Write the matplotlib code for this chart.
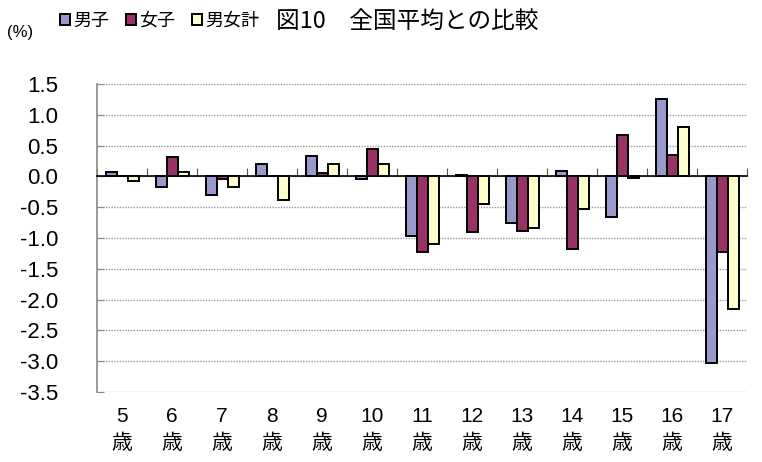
import numpy as np
import matplotlib
matplotlib.use('Agg')
import matplotlib.pyplot as plt

plt.rcParams['font.family'] = ['Noto Sans CJK JP', 'DejaVu Sans']

# data (difference from national average, %)
ages = ['5', '6', '7', '8', '9', '10', '11', '12', '13', '14', '15', '16', '17']
boys = [0.07, -0.17, -0.30, 0.20, 0.33, -0.05, -0.96, 0.03, -0.76, 0.08, -0.66, 1.25, -3.03]
girls = [0.0, 0.31, -0.05, 0.0, 0.06, 0.44, -1.23, -0.91, -0.88, -1.18, 0.67, 0.35, -1.23]
total = [-0.07, 0.07, -0.18, -0.39, 0.20, 0.20, -1.09, -0.44, -0.83, -0.53, -0.02, 0.81, -2.16]
series_names = ['男子', '女子', '男女計']
colours = ['#9999CC', '#993366', '#FFFFCC']
yticks = [1.5, 1.0, 0.5, 0.0, -0.5, -1.0, -1.5, -2.0, -2.5, -3.0, -3.5]

fig = plt.figure(figsize=(7.62, 4.62), dpi=100)
ax = fig.add_axes([97/762, 1-392/462, 650/762, 308/462])

x = np.arange(len(ages))
w = 0.22
bars = []
for i, (vals, c, name) in enumerate(zip([boys, girls, total], colours, series_names)):
    b = ax.bar(x + (i-1)*w, vals, w, color=c, edgecolor='black', linewidth=1.4,
               label=name, zorder=3)
    bars.append(b)

ax.set_xlim(-0.5, len(ages)-0.5)
ax.set_ylim(-3.5, 1.5)

# y axis
ax.set_yticks(yticks)
ax.set_yticklabels(['%.1f' % v for v in yticks], family=['Liberation Sans', 'DejaVu Sans'],
                   fontsize=16)
ax.tick_params(axis='y', direction='in', length=5, color='#888888', pad=28)
ax.grid(axis='y', linestyle=(0, (1, 1)), color='#999999', linewidth=1.0, zorder=0)

for s in ['top', 'right']:
    ax.spines[s].set_visible(False)
ax.spines['left'].set_color('#888888')
ax.spines['left'].set_linewidth(1.2)

# category axis drawn at zero with boundary ticks pointing up
ax.spines['bottom'].set_position(('data', 0))
ax.spines['bottom'].set_color('black')
ax.spines['bottom'].set_linewidth(1.2)
ax.spines['bottom'].set_zorder(4)
ax.set_xticks(np.arange(len(ages)+1) - 0.5)
ax.set_xticklabels([])
ax.tick_params(axis='x', direction='in', length=6, color='#555555')

sec = ax.secondary_xaxis('bottom')
sec.set_xticks(x)
sec.set_xticklabels([a + '\n歳' for a in ages], family=['Liberation Sans', 'Noto Sans CJK JP'],
                    fontsize=15, linespacing=1.5)
sec.tick_params(length=0, pad=11)
sec.spines['bottom'].set_visible(False)

# title, unit and legend
fig.text(276/762, 1-21/462, '図10　全国平均との比較', fontsize=17, va='center', ha='left')
fig.text(7/762, 1-33/462, '(%)', fontsize=12, va='center', ha='left',
         family=['Liberation Sans Narrow', 'Liberation Sans'])
fig.legend(handles=bars, labels=series_names, loc='center left',
           bbox_to_anchor=(60/762, 1-21/462), ncol=3, frameon=False, fontsize=13,
           handlelength=0.55, handleheight=0.55, handletextpad=0.2, columnspacing=0.9,
           borderaxespad=0, borderpad=0)

fig.savefig('out.png', dpi=100)
